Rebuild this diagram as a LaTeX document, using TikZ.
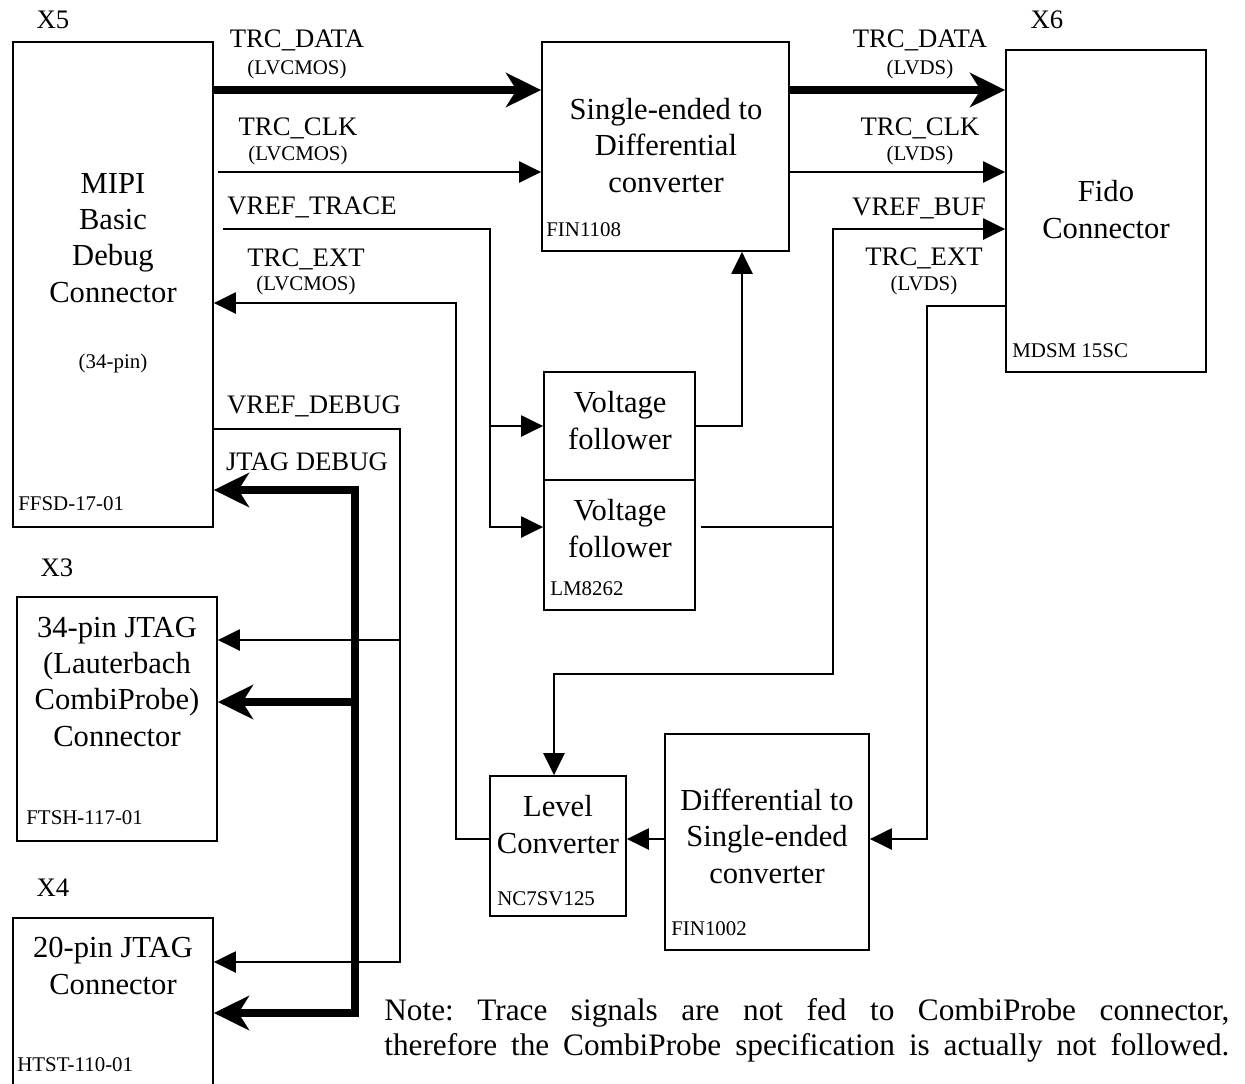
\documentclass[tikz,border=0pt]{standalone}
\usepackage{fontspec}
\setmainfont{Liberation Serif}
\usetikzlibrary{arrows.meta,positioning,fit,calc}
\frenchspacing

\begin{document}
\begin{tikzpicture}[x=0.02cm,y=-0.02cm,line join=miter]
    \tikzset{
        block/.style={draw, line width=1pt, inner sep=0pt},
        boxtext/.style={font=\fontsize{17.4}{20.6}\selectfont, align=center, inner sep=0pt, anchor=base},
        siglabel/.style={font=\fontsize{15.2}{17}\selectfont, inner sep=0pt, anchor=base},
        sublabel/.style={font=\fontsize{11.9}{14}\selectfont, inner sep=0pt, anchor=base},
        partno/.style={font=\fontsize{11.9}{14}\selectfont, inner sep=0pt, anchor=base west},
        notetext/.style={font=\fontsize{17.8}{19.9}\selectfont, align=left, inner sep=0pt, anchor=base west},
        sig/.style={line width=1.1pt},
        bus/.style={line width=4.5pt},
        Sig/.tip={Triangle[length=12.5pt,width=12pt]},
        Bus/.tip={Stealth[length=20pt,width=19.5pt,inset=6pt]}
    }
    \useasboundingbox (0,0) rectangle (1245,1083);
    \clip (0,0) rectangle (1245,1083);

    % Connectors
    \node[block, fit={(13,42) (213,527)}] (mipi) {};
    \node[boxtext] (mipiT) at (113,302) {MIPI\\Basic\\Debug\\Connector};
    \node[sublabel] (mipiPin) at (113,368) {(34-pin)};
    \node[partno] (mipiP) at (18,510) {FFSD-17-01};
    \node[siglabel] (x5) at (53,28) {X5};

    \node[block, fit={(1006,50) (1206,372)}] (fido) {};
    \node[boxtext] (fidoT) at (1106,238) {Fido\\Connector};
    \node[partno] (fidoP) at (1012,357) {MDSM 15SC};
    \node[siglabel] (x6) at (1047,28) {X6};

    \node[block, fit={(17,597) (217,841)}] (jtagA) {};
    \node[boxtext] (jtagAT) at (117,746) {34-pin JTAG\\(Lauterbach\\CombiProbe)\\Connector};
    \node[partno] (jtagAP) at (26,824) {FTSH-117-01};
    \node[siglabel] (x3) at (57,576) {X3};

    \node[block, fit={(13,918) (213,1110)}] (jtagB) {};
    \node[boxtext] (jtagBT) at (113,994) {20-pin JTAG\\Connector};
    \node[partno] (jtagBP) at (17,1071) {HTST-110-01};
    \node[siglabel] (x4) at (53,896) {X4};

    % Converters
    \node[block, fit={(542,42) (789,251)}] (se) {};
    \node[boxtext] (seT) at (666,192) {Single-ended to\\Differential\\converter};
    \node[partno] (seP) at (546,236) {FIN1108};

    \node[block, fit={(544,372) (695,480)}] (vfA) {};
    \node[boxtext] (vfAT) at (620,449) {Voltage\\follower};
    \node[block, fit={(544,480) (695,610)}] (vfB) {};
    \node[boxtext] (vfBT) at (620,557) {Voltage\\follower};
    \node[partno] (vfP) at (550,595) {LM8262};

    \node[block, fit={(490,776) (626,916)}] (lvl) {};
    \node[boxtext] (lvlT) at (558,853) {Level\\Converter};
    \node[partno] (lvlP) at (497,905) {NC7SV125};

    \node[block, fit={(665,734) (869,950)}] (diff) {};
    \node[boxtext] (diffT) at (767,883) {Differential to\\Single-ended\\converter};
    \node[partno] (diffP) at (671,935) {FIN1002};

    % Signal labels
    \node[siglabel] (lDataA) at (297,47) {TRC\_DATA};
    \node[sublabel] (lDataAs) at (297,74) {(LVCMOS)};
    \node[siglabel] (lClkA) at (298,135) {TRC\_CLK};
    \node[sublabel] (lClkAs) at (298,160) {(LVCMOS)};
    \node[siglabel] (lVtr) at (312,214) {VREF\_TRACE};
    \node[siglabel] (lExtA) at (306,266) {TRC\_EXT};
    \node[sublabel] (lExtAs) at (306,290) {(LVCMOS)};
    \node[siglabel] (lVdb) at (314,413) {VREF\_DEBUG};
    \node[siglabel] (lJtag) at (307,470) {JTAG DEBUG};

    \node[siglabel] (lDataB) at (920,47) {TRC\_DATA};
    \node[sublabel] (lDataBs) at (920,74) {(LVDS)};
    \node[siglabel] (lClkB) at (920,135) {TRC\_CLK};
    \node[sublabel] (lClkBs) at (920,160) {(LVDS)};
    \node[siglabel] (lVbuf) at (919,215) {VREF\_BUF};
    \node[siglabel] (lExtB) at (924,265) {TRC\_EXT};
    \node[sublabel] (lExtBs) at (924,290) {(LVDS)};

    % Junctions
    \coordinate (yData) at (0,90);
    \coordinate (yClk) at (0,172);
    \coordinate (vtrJ) at (490,229);
    \coordinate (yVfB) at (0,527);
    \coordinate (extJ) at (456,303);
    \coordinate (vdbJ) at (400,429);
    \coordinate (yX3) at (0,640);
    \coordinate (yX4) at (0,962);
    \coordinate (jtgJ) at (355,490);
    \coordinate (yJtA) at (0,702);
    \coordinate (yJtB) at (0,1013);
    \coordinate (seIn) at (742,0);
    \coordinate (lvIn) at (554,0);
    \coordinate (vbufJ) at (833,229);
    \coordinate (vbufB) at (833,674);
    \coordinate (lvdsJ) at (927,306);
    \coordinate (yLc) at (0,839);

    % Trace data and clock
    \draw[bus,-Bus] (mipi.east |- yData) -- (se.west |- yData);
    \draw[bus,-Bus] (se.east |- yData) -- (fido.west |- yData);
    \draw[sig,-Sig] ($(mipi.east |- yClk)+(4,0)$) -- (se.west |- yClk);
    \draw[sig,-Sig] (se.east |- yClk) -- (fido.west |- yClk);

    % Reference voltages
    \draw[sig,-Sig] ($(mipi.east |- vtrJ)+(9,0)$) -- (vtrJ) |- (vfB.west |- yVfB);
    \draw[sig,-Sig] (vtrJ |- vfA.west) -- (vfA.west);
    \draw[sig,-Sig] (vfA.east) -| (se.south -| seIn);
    \draw[sig] ($(vfB.east |- yVfB)+(5,0)$) -- (vbufJ |- yVfB);
    \draw[sig,Sig-Sig] (lvl.north -| lvIn) |- (vbufB) -- (vbufJ) -- (fido.west |- vbufJ);

    % Trace ext
    \draw[sig,-Sig] (fido.west |- lvdsJ) -- (lvdsJ) |- (diff.east |- yLc);
    \draw[sig,-Sig] (diff.west |- yLc) -- (lvl.east |- yLc);
    \draw[sig,-Sig] (lvl.west |- yLc) -| (extJ) -- (mipi.east |- extJ);

    % Debug
    \draw[sig,-Sig] (mipi.east |- vdbJ) -- (vdbJ) |- (jtagB.east |- yX4);
    \draw[sig,-Sig] (vdbJ |- yX3) -- (jtagA.east |- yX3);
    \draw[bus,Bus-Bus] (mipi.east |- jtgJ) -- (jtgJ) |- (jtagB.east |- yJtB);
    \draw[bus,-Bus] (jtgJ |- yJtA) -- (jtagA.east |- yJtA);

    % Note
    \node[notetext] (note) at (384,1055) {\makebox[481pt][s]{Note: Trace signals are not fed to CombiProbe connector,}\\\makebox[481pt][s]{therefore the CombiProbe specification is actually not followed.}};
\end{tikzpicture}
\end{document}
